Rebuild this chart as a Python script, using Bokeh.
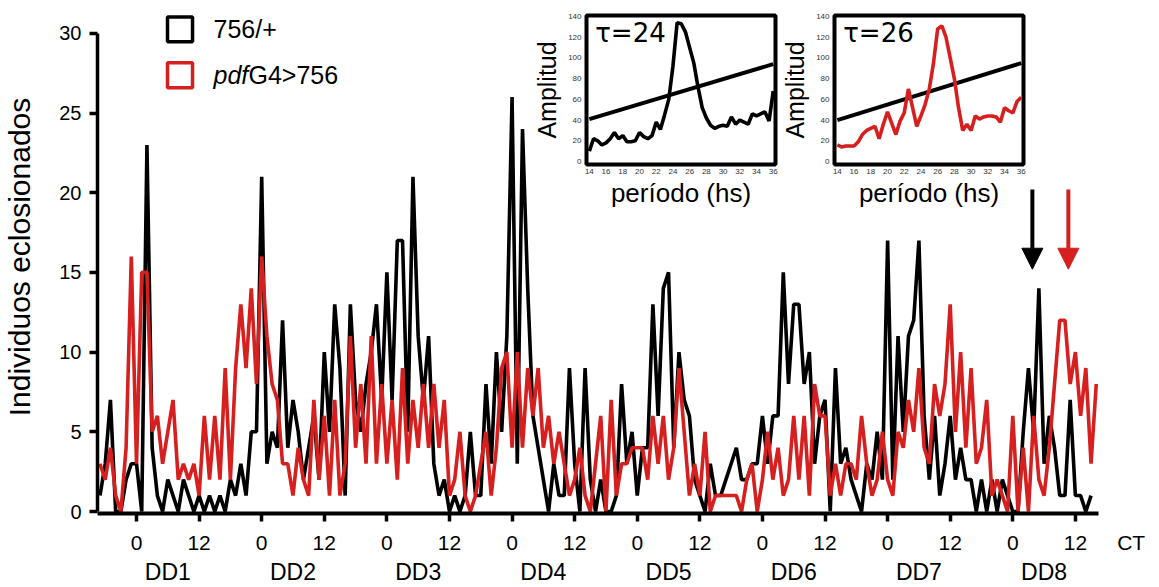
from bokeh.plotting import figure
from bokeh.models import (Range1d, FixedTicker, LinearAxis, Label, BoxAnnotation,
                          Arrow, NormalHead)
from bokeh.layouts import column, row
from bokeh.embed import file_html
from bokeh.resources import INLINE

# ---------------- data ----------------
# hourly emergence counts, first sample at CT -7 of DD1
black_756 = [1, 3, 7, 0, 0, 2, 3,
             3, 0, 23, 4, 1, 0, 2, 1, 0, 2, 1, 0, 1, 0, 1, 0, 1, 0, 2, 1, 3, 1, 5, 5,
             21, 3, 5, 4,
             12, 4, 7, 5, 2, 4, 6, 2, 10, 5, 13, 9, 1, 13, 7, 5, 8, 10, 13, 7,
             15, 7, 17, 17, 5, 21, 11, 7, 11, 3, 1, 2, 0, 1, 0, 1, 5, 1,
             1, 8, 3, 10, 5, 11, 26, 3, 24, 14, 6, 4, 2, 0, 3, 1, 1, 9, 3, 0,
             9, 2, 0, 2, 0, 0, 1, 8, 3, 5, 1, 4, 4, 13,
             6, 14, 15, 4, 10, 7, 6, 2, 1, 0, 3, 1, 1, 2, 3, 4, 2, 2, 3, 3,
             6, 3, 6, 6, 15, 8, 13, 13, 8, 10, 3, 6, 7, 0, 9, 3, 4,
             2, 1, 0, 3, 2, 5, 2, 17, 2, 11, 5, 11, 12, 17, 6, 2, 6, 1, 3, 6,
             2, 4, 2, 2, 0, 2, 0, 2, 0, 2, 1, 0, 0, 5, 9, 5, 14, 3, 6, 4,
             1, 1, 7, 1, 1, 0, 1]
red_pdf = [3, 2, 4, 1, 0, 4, 16,
           3, 15, 15, 5, 6, 3, 5, 7, 2, 3, 2, 3, 1, 6, 2, 6, 2, 9, 2, 9,
           13, 9, 14, 8, 16, 11, 8, 7,
           3, 3, 1, 4, 2, 1, 7, 2, 6, 1, 7, 1, 3, 11, 4, 8, 3, 11, 3, 8,
           3, 7, 2, 9, 3, 7, 4, 8, 4, 8, 4, 7, 1, 2, 5, 1, 0, 1,
           3, 5, 1, 4, 9, 10, 4, 10, 4, 9, 6, 9, 4, 6, 3, 5, 3, 1, 2, 4,
           1, 0, 3, 6, 0, 7, 1, 3, 3, 4, 4, 4, 2, 6,
           3, 6, 2, 4, 9, 5, 1, 3, 1, 5, 0, 1, 1, 1, 1, 1, 0, 2, 3, 0,
           2, 5, 2, 4, 1, 2, 6, 2, 6, 1, 8, 6, 6, 1, 3, 1, 3,
           3, 2, 6, 3, 1, 2, 5, 2, 1, 5, 4, 7, 5, 9, 4, 3, 8, 6, 8, 13,
           5, 10, 4, 9, 3, 4, 7, 1, 2, 1, 0, 6, 0, 4, 0, 6, 2, 1, 4, 8,
           12, 12, 8, 10, 6, 9, 3, 8]
hours_black = list(range(-7, -7 + len(black_756)))
hours_red = list(range(-7, -7 + len(red_pdf)))

ct_ticks = [0, 12, 24, 36, 48, 60, 72, 84, 96, 108, 120, 132, 144, 156, 168, 180]
ct_labels = ["0", "12"] * 8
ct_unit_pos = 190.7
day_centers = [6, 30, 54, 78, 102, 126, 150, 174]
day_labels = ["DD1", "DD2", "DD3", "DD4", "DD5", "DD6", "DD7", "DD8"]
y_ticks = [0, 5, 10, 15, 20, 25, 30]

# periodogram insets
period = [14.0, 14.5, 15.0, 15.5, 16.0, 16.5, 17.0, 17.5, 18.0, 18.5, 19.0, 19.5,
          20.0, 20.5, 21.0, 21.5, 22.0, 22.5, 23.0, 23.5, 24.0, 24.5, 25.0, 25.5,
          26.0, 26.5, 27.0, 27.5, 28.0, 28.5, 29.0, 29.5, 30.0, 30.5, 31.0, 31.5,
          32.0, 32.5, 33.0, 33.5, 34.0, 34.5, 35.0, 35.5, 36.0]
amp_756 = [10, 22, 20, 16, 18, 22, 28, 22, 25, 19, 19, 20, 28, 24, 22, 25, 38, 31,
           45, 60, 92, 134, 133, 125, 110, 95, 72, 52, 42, 35, 32, 34, 35, 34, 43, 36,
           40, 38, 36, 46, 44, 46, 48, 39, 68]
amp_pdf = [16, 14, 15, 15, 15, 19, 26, 30, 32, 34, 22, 36, 48, 37, 26, 39, 47, 70,
           52, 34, 44, 55, 70, 95, 128, 131, 120, 100, 80, 52, 30, 36, 30, 44, 41, 43,
           44, 44, 43, 38, 52, 49, 47, 58, 62]
sig_period = [14, 36]
sig_756 = [41, 94]
sig_pdf = [40, 95]
period_ticks = [14, 16, 18, 20, 22, 24, 26, 28, 30, 32, 34, 36]
amp_ticks = [0, 20, 40, 60, 80, 100, 120, 140]

# ---------------- style ----------------
FONT = "Liberation Sans"
RED = "#d61f1f"

p = figure(width=1159, height=587,
           x_range=Range1d(-7.48, 194.4), y_range=Range1d(-0.125, 32.06),
           output_backend="svg", toolbar_location=None,
           x_axis_type=None, y_axis_type=None,
           min_border_left=97, min_border_right=9, min_border_top=0, min_border_bottom=72)
p.outline_line_color = None
p.background_fill_color = "white"
p.border_fill_color = "white"

# 1) axis line with tick marks (its own labels are made invisible)
xline = LinearAxis(ticker=FixedTicker(ticks=ct_ticks), bounds=(-7.48, 184.4))
xline.axis_line_width = 4
xline.axis_line_color = "black"
xline.major_tick_line_width = 3.5
xline.major_tick_line_color = "black"
xline.major_tick_out = 8
xline.major_tick_in = 0
xline.minor_tick_line_color = None
xline.major_label_text_font_size = "4px"
xline.major_label_text_alpha = 0
xline.major_label_standoff = 0
p.add_layout(xline, "below")

# 2) row of CT tick labels (0 / 12 ... CT)
lab_ticks = ct_ticks + [ct_unit_pos]
lab_text = ct_labels + ["CT"]
xlab = LinearAxis(ticker=FixedTicker(ticks=lab_ticks),
                  major_label_overrides={t: l for t, l in zip(lab_ticks, lab_text)})
xlab.axis_line_color = None
xlab.major_tick_line_color = None
xlab.minor_tick_line_color = None
xlab.major_tick_out = 0
xlab.major_tick_in = 0
xlab.major_label_text_font = FONT
xlab.major_label_text_font_size = "21px"
xlab.major_label_text_color = "black"
xlab.major_label_standoff = 9
p.add_layout(xlab, "below")

# 3) row of day names
dax = LinearAxis(ticker=FixedTicker(ticks=day_centers),
                 major_label_overrides={t: l for t, l in zip(day_centers, day_labels)})
dax.axis_line_color = None
dax.major_tick_line_color = None
dax.minor_tick_line_color = None
dax.major_tick_out = 0
dax.major_tick_in = 0
dax.major_label_text_font = FONT
dax.major_label_text_font_size = "23px"
dax.major_label_text_color = "black"
dax.major_label_standoff = 2
p.add_layout(dax, "below")

yax = LinearAxis(ticker=FixedTicker(ticks=y_ticks), bounds=(0, 30))
yax.axis_line_width = 3.5
yax.major_tick_line_width = 3.5
yax.major_tick_out = 8
yax.major_tick_in = 0
yax.minor_tick_line_color = None
yax.major_label_text_font = FONT
yax.major_label_text_font_size = "20px"
yax.major_label_text_color = "black"
yax.major_label_standoff = 8
yax.axis_label = "Individuos eclosionados"
yax.axis_label_text_font = FONT
yax.axis_label_text_font_size = "30px"
yax.axis_label_text_font_style = "normal"
yax.axis_label_text_color = "black"
yax.axis_label_standoff = 20
p.add_layout(yax, "left")

p.line(hours_black, black_756, line_color="black", line_width=3.6)
p.line(hours_red, red_pdf, line_color=RED, line_width=3.6)

# legend (drawn by hand because of the italic part)
p.add_layout(BoxAnnotation(left=5.94, right=10.74, bottom=29.47, top=31.03,
                           fill_alpha=0, line_color="black", line_alpha=1, line_width=3.5))
p.add_layout(BoxAnnotation(left=5.94, right=10.74, bottom=26.59, top=28.16,
                           fill_alpha=0, line_color=RED, line_alpha=1, line_width=3.5))
p.add_layout(Label(x=14.76, y=30.25, text="756/+", text_baseline="middle",
                   text_font=FONT, text_font_size="25px", text_color="black"))
p.add_layout(Label(x=14.76, y=27.375, text="pdf", text_baseline="middle",
                   text_font=FONT, text_font_size="25px", text_font_style="italic",
                   text_color="black"))
p.add_layout(Label(x=14.76, y=27.375, x_offset=35, text="G4>756", text_baseline="middle",
                   text_font=FONT, text_font_size="25px", text_color="black"))

# arrows marking DD8 peaks
p.add_layout(Arrow(x_start=171.75, y_start=20.2, x_end=171.75, y_end=15.2,
                   line_color="black", line_width=4,
                   end=NormalHead(size=21, fill_color="black", line_color="black", line_width=1)))
p.add_layout(Arrow(x_start=178.65, y_start=20.2, x_end=178.65, y_end=15.2,
                   line_color=RED, line_width=4,
                   end=NormalHead(size=21, fill_color=RED, line_color=RED, line_width=1)))


def make_inset(amp, sig, color, tau_text, width):
    f = figure(width=width, height=200,
               x_range=Range1d(13.66, 36.27), y_range=Range1d(-2.9, 141),
               output_backend="svg", toolbar_location=None,
               x_axis_type=None, y_axis_type=None,
               min_border_left=54, min_border_right=width - 54 - 191,
               min_border_top=5, min_border_bottom=44)
    f.background_fill_color = "white"
    f.border_fill_alpha = 0
    f.outline_line_color = "black"
    f.outline_line_width = 4
    f.outline_line_alpha = 1
    bx = LinearAxis(ticker=FixedTicker(ticks=period_ticks))
    bx.axis_line_color = None
    bx.major_tick_line_color = None
    bx.minor_tick_line_color = None
    bx.major_tick_out = 0
    bx.major_tick_in = 0
    bx.major_label_standoff = 4
    bx.major_label_text_font = FONT
    bx.major_label_text_font_size = "8px"
    bx.major_label_text_color = "#333333"
    bx.axis_label = "período (hs)"
    bx.axis_label_text_font = FONT
    bx.axis_label_text_font_size = "26px"
    bx.axis_label_text_font_style = "normal"
    bx.axis_label_text_color = "black"
    bx.axis_label_standoff = 1
    f.add_layout(bx, "below")
    ly = LinearAxis(ticker=FixedTicker(ticks=amp_ticks))
    ly.axis_line_color = None
    ly.major_tick_line_color = None
    ly.minor_tick_line_color = None
    ly.major_tick_out = 0
    ly.major_tick_in = 0
    ly.major_label_standoff = 5
    ly.major_label_text_font = FONT
    ly.major_label_text_font_size = "8px"
    ly.major_label_text_color = "#333333"
    ly.axis_label = "Amplitud"
    ly.axis_label_text_font = FONT
    ly.axis_label_text_font_size = "25px"
    ly.axis_label_text_font_style = "normal"
    ly.axis_label_text_color = "black"
    ly.axis_label_standoff = 4
    f.add_layout(ly, "left")
    f.line(sig_period, sig, line_color="black", line_width=4)
    f.line(period, amp, line_color=color, line_width=3.6)
    f.add_layout(Label(x=14.7, y=124, text=tau_text, text_baseline="middle",
                       text_font="DejaVu Sans", text_font_size="26px", text_color="black"))
    return f


inset1 = make_inset(amp_756, sig_756, "black", "τ=24", 248)
inset2 = make_inset(amp_pdf, sig_pdf, RED, "τ=26", 250)

insets = row(inset1, inset2, margin=(-577, 0, 0, 530))
layout = column(p, insets)

open("out.html", "w").write(file_html(layout, INLINE))
